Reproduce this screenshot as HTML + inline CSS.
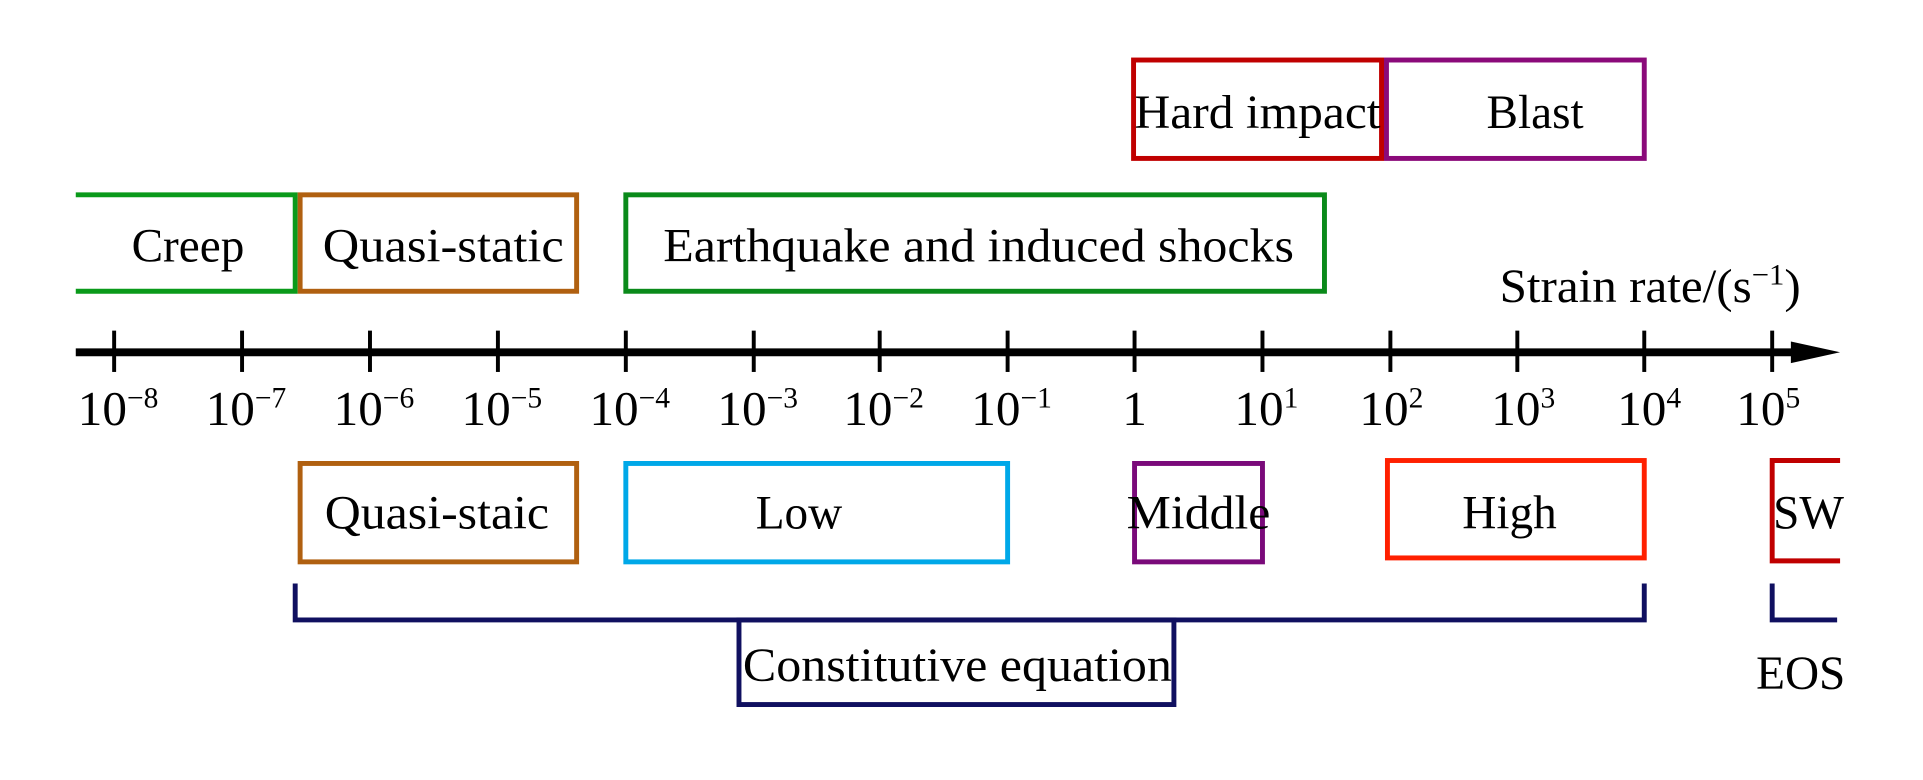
<!DOCTYPE html>
<html><head><meta charset="utf-8"><style>html,body{margin:0;padding:0;background:#fff}svg{display:block}</style></head>
<body>
<svg width="1923" height="780" viewBox="0 0 1923 780" xmlns="http://www.w3.org/2000/svg" font-family="Liberation Serif, serif" font-size="48">
<g transform="scale(0.984)">
<g fill="none" stroke-width="5">
<rect x="1152" y="61" width="252" height="100" stroke="#c00000"/>
<rect x="1409" y="61" width="262" height="100" stroke="#8b0a7a"/>
<path d="M77 198 H300 V296 H77" stroke="#0a9a1a"/>
<rect x="305" y="198" width="281" height="98" stroke="#b06010"/>
<rect x="636" y="198" width="710" height="98" stroke="#0a8a1a"/>
<rect x="305" y="471" width="281" height="100" stroke="#b06010"/>
<rect x="636" y="471" width="388" height="100" stroke="#00a8e8"/>
<rect x="1153" y="471" width="130" height="100" stroke="#7a0a7a"/>
<rect x="1410" y="468" width="261" height="99" stroke="#ff2000"/>
<path d="M1870 468 H1801 V570 H1870" stroke="#c00000"/>
<path d="M300 593 V630 H1671 V593" stroke="#101060"/>
<rect x="751" y="630" width="442" height="86" stroke="#101060"/>
<path d="M1801 593 V630 H1867" stroke="#101060"/>
</g>
<line x1="77" y1="358" x2="1830" y2="358" stroke="#000" stroke-width="8"/>
<polygon points="1820,347 1870,358 1820,369" fill="#000"/>
<g stroke="#000" stroke-width="4">
<line x1="116" y1="336" x2="116" y2="378"/><line x1="246" y1="336" x2="246" y2="378"/>
<line x1="376" y1="336" x2="376" y2="378"/><line x1="506" y1="336" x2="506" y2="378"/>
<line x1="636" y1="336" x2="636" y2="378"/><line x1="766" y1="336" x2="766" y2="378"/>
<line x1="894" y1="336" x2="894" y2="378"/><line x1="1024" y1="336" x2="1024" y2="378"/>
<line x1="1153" y1="336" x2="1153" y2="378"/><line x1="1283" y1="336" x2="1283" y2="378"/>
<line x1="1413" y1="336" x2="1413" y2="378"/><line x1="1542" y1="336" x2="1542" y2="378"/>
<line x1="1671" y1="336" x2="1671" y2="378"/><line x1="1801" y1="336" x2="1801" y2="378"/>
</g>
<g fill="#000">
<text x="1153" y="130" textLength="250" lengthAdjust="spacingAndGlyphs">Hard impact</text>
<text x="1560" y="130" text-anchor="middle">Blast</text>
<text x="191" y="266" text-anchor="middle">Creep</text>
<text x="328" y="266" textLength="245" lengthAdjust="spacingAndGlyphs">Quasi-static</text>
<text x="674" y="266" textLength="641" lengthAdjust="spacingAndGlyphs">Earthquake and induced shocks</text>
<text x="1524" y="307" textLength="306" lengthAdjust="spacingAndGlyphs">Strain rate/(s<tspan font-size="30" dy="-18">−1</tspan><tspan dy="18">)</tspan></text>
<text x="330" y="537" textLength="228" lengthAdjust="spacingAndGlyphs">Quasi-staic</text>
<text x="812" y="537" text-anchor="middle">Low</text>
<text x="1145" y="537" textLength="146" lengthAdjust="spacingAndGlyphs">Middle</text>
<text x="1534" y="537" text-anchor="middle">High</text>
<text x="1838" y="537" text-anchor="middle">SW</text>
<text x="755" y="692" textLength="436" lengthAdjust="spacingAndGlyphs">Constitutive equation</text>
<text x="1830" y="700" text-anchor="middle">EOS</text>
</g>
<g fill="#000" font-size="50" text-anchor="middle">
<text x="120" y="432">10<tspan font-size="30" dy="-18">−8</tspan></text>
<text x="250" y="432">10<tspan font-size="30" dy="-18">−7</tspan></text>
<text x="380" y="432">10<tspan font-size="30" dy="-18">−6</tspan></text>
<text x="510" y="432">10<tspan font-size="30" dy="-18">−5</tspan></text>
<text x="640" y="432">10<tspan font-size="30" dy="-18">−4</tspan></text>
<text x="770" y="432">10<tspan font-size="30" dy="-18">−3</tspan></text>
<text x="898" y="432">10<tspan font-size="30" dy="-18">−2</tspan></text>
<text x="1028" y="432">10<tspan font-size="30" dy="-18">−1</tspan></text>
<text x="1153" y="432">1</text>
<text x="1287" y="432">10<tspan font-size="30" dy="-18">1</tspan></text>
<text x="1414" y="432">10<tspan font-size="30" dy="-18">2</tspan></text>
<text x="1548" y="432">10<tspan font-size="30" dy="-18">3</tspan></text>
<text x="1676" y="432">10<tspan font-size="30" dy="-18">4</tspan></text>
<text x="1797" y="432">10<tspan font-size="30" dy="-18">5</tspan></text>
</g>
</g>
</svg>
</body></html>
